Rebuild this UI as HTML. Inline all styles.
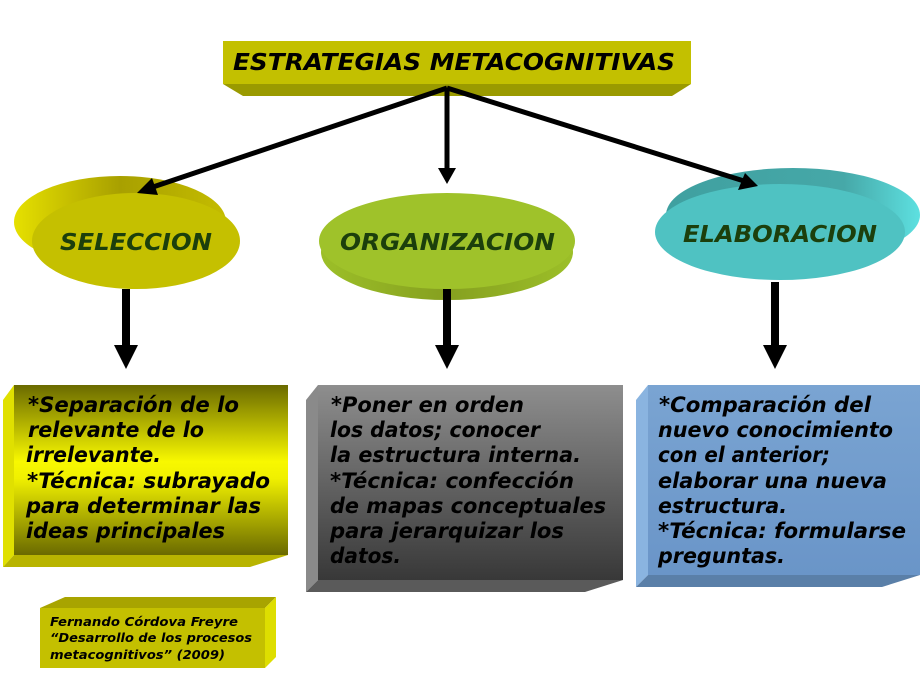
<!DOCTYPE html>
<html><head><meta charset="utf-8"><style>
html,body{margin:0;padding:0;background:#fff;}
svg{display:block;}
text{font-family:"DejaVu Sans","Liberation Sans",sans-serif;font-weight:bold;font-style:italic;}
</style></head><body>
<svg width="922" height="698" viewBox="0 0 922 698" xmlns="http://www.w3.org/2000/svg">
<defs>
<linearGradient id="gy" x1="0" y1="0" x2="0" y2="1">
<stop offset="0" stop-color="#6a6a00"/><stop offset="0.45" stop-color="#f8f800"/><stop offset="0.55" stop-color="#f0f000"/><stop offset="1" stop-color="#6a6a00"/></linearGradient>
<linearGradient id="gg" x1="0" y1="0" x2="0" y2="1">
<stop offset="0" stop-color="#8e8e8e"/><stop offset="1" stop-color="#383838"/></linearGradient>
<linearGradient id="gb" x1="0" y1="0" x2="0" y2="1">
<stop offset="0" stop-color="#7aa4d2"/><stop offset="1" stop-color="#6a95c8"/></linearGradient>
<linearGradient id="go" x1="0" y1="0" x2="1" y2="0">
<stop offset="0" stop-color="#9cbf28"/><stop offset="0.5" stop-color="#86a020"/><stop offset="1" stop-color="#9cbf28"/></linearGradient>
<linearGradient id="gs" x1="0" y1="0" x2="1" y2="0">
<stop offset="0" stop-color="#e6e000"/><stop offset="0.5" stop-color="#a8a000"/><stop offset="1" stop-color="#c4bc00"/></linearGradient>
<linearGradient id="ge" x1="0" y1="0" x2="1" y2="0">
<stop offset="0" stop-color="#3fa0a0"/><stop offset="0.7" stop-color="#46a8a8"/><stop offset="1" stop-color="#5de0e0"/></linearGradient>
</defs>

<!-- title -->
<polygon points="223,84 691,84 672,96 243,96" fill="#9a9a00"/>
<rect x="223" y="41" width="468" height="43" fill="#c3c000"/>
<text x="233" y="70" font-size="23" textLength="442" lengthAdjust="spacingAndGlyphs" fill="#000">ESTRATEGIAS METACOGNITIVAS</text>

<!-- ellipses -->
<ellipse cx="120" cy="222" rx="106" ry="46" fill="url(#gs)"/>
<ellipse cx="136" cy="241" rx="104" ry="48" fill="#c5c000"/>
<text x="60" y="250" font-size="23" textLength="152" lengthAdjust="spacingAndGlyphs" fill="#1c3f0c">SELECCION</text>

<ellipse cx="447" cy="252" rx="126" ry="48" fill="url(#go)"/>
<ellipse cx="447" cy="241" rx="128" ry="48" fill="#9fc22a"/>
<text x="340" y="250" font-size="23" textLength="215" lengthAdjust="spacingAndGlyphs" fill="#1c3f0c">ORGANIZACION</text>

<ellipse cx="793" cy="215" rx="127" ry="47" fill="url(#ge)"/>
<ellipse cx="780" cy="232" rx="125" ry="48" fill="#4fc2c2"/>
<text x="683" y="242" font-size="23" textLength="194" lengthAdjust="spacingAndGlyphs" fill="#1c3f0c">ELABORACION</text>

<!-- top arrows -->
<g stroke="#000" stroke-width="5" fill="none">
<line x1="447" y1="88" x2="150" y2="188"/>
<line x1="447" y1="88" x2="447" y2="168"/>
<line x1="447" y1="88" x2="744" y2="181"/>
</g>
<polygon points="137,193 152,178 158,195" fill="#000"/>
<polygon points="438,168 456,168 447,184" fill="#000"/>
<polygon points="758,186 738,190 745,173" fill="#000"/>

<!-- down arrows -->
<g fill="#000">
<rect x="122" y="289" width="8" height="58"/><polygon points="114,345 138,345 126,369"/>
<rect x="443" y="289" width="8" height="58"/><polygon points="435,345 459,345 447,369"/>
<rect x="771" y="282" width="8" height="65"/><polygon points="763,345 787,345 775,369"/>
</g>

<!-- yellow box -->
<polygon points="3,400 14,385 14,555 3,567" fill="#e0e000"/>
<polygon points="3,567 14,555 288,555 250,567" fill="#b8b400"/>
<rect x="14" y="385" width="274" height="170" fill="url(#gy)"/>
<g font-size="21" fill="#000">
<text x="28" y="412" textLength="211" lengthAdjust="spacingAndGlyphs">*Separación de lo</text>
<text x="28" y="437" textLength="176" lengthAdjust="spacingAndGlyphs">relevante de lo</text>
<text x="26" y="462" textLength="135" lengthAdjust="spacingAndGlyphs">irrelevante.</text>
<text x="27" y="488" textLength="243" lengthAdjust="spacingAndGlyphs">*Técnica: subrayado</text>
<text x="26" y="513" textLength="235" lengthAdjust="spacingAndGlyphs">para determinar las</text>
<text x="26" y="538" textLength="199" lengthAdjust="spacingAndGlyphs">ideas principales</text>
</g>

<!-- gray box -->
<polygon points="306,400 318,385 318,580 306,592" fill="#8a8a8a"/>
<polygon points="306,592 318,580 623,580 585,592" fill="#5a5a5a"/>
<rect x="318" y="385" width="305" height="195" fill="url(#gg)"/>
<g font-size="21" fill="#000">
<text x="331" y="412" textLength="193" lengthAdjust="spacingAndGlyphs">*Poner en orden</text>
<text x="330" y="437" textLength="210" lengthAdjust="spacingAndGlyphs">los datos; conocer</text>
<text x="330" y="462" textLength="251" lengthAdjust="spacingAndGlyphs">la estructura interna.</text>
<text x="330" y="488" textLength="244" lengthAdjust="spacingAndGlyphs">*Técnica: confección</text>
<text x="330" y="513" textLength="276" lengthAdjust="spacingAndGlyphs">de mapas conceptuales</text>
<text x="330" y="538" textLength="234" lengthAdjust="spacingAndGlyphs">para jerarquizar los</text>
<text x="330" y="563" textLength="71" lengthAdjust="spacingAndGlyphs">datos.</text>
</g>

<!-- blue box -->
<polygon points="636,400 648,385 648,575 636,587" fill="#8ab4e0"/>
<polygon points="636,587 648,575 920,575 882,587" fill="#5a7fa8"/>
<rect x="648" y="385" width="272" height="190" fill="url(#gb)"/>
<g font-size="21" fill="#000">
<text x="659" y="412" textLength="212" lengthAdjust="spacingAndGlyphs">*Comparación del</text>
<text x="658" y="437" textLength="235" lengthAdjust="spacingAndGlyphs">nuevo conocimiento</text>
<text x="658" y="462" textLength="172" lengthAdjust="spacingAndGlyphs">con el anterior;</text>
<text x="658" y="488" textLength="229" lengthAdjust="spacingAndGlyphs">elaborar una nueva</text>
<text x="658" y="513" textLength="129" lengthAdjust="spacingAndGlyphs">estructura.</text>
<text x="658" y="538" textLength="248" lengthAdjust="spacingAndGlyphs">*Técnica: formularse</text>
<text x="658" y="563" textLength="127" lengthAdjust="spacingAndGlyphs">preguntas.</text>
</g>

<!-- citation -->
<polygon points="40,608 65,597 276,597 265,608" fill="#a8a400"/>
<polygon points="265,608 276,597 276,657 265,668" fill="#dede00"/>
<rect x="40" y="608" width="225" height="60" fill="#c4c000"/>
<g font-size="12.5" fill="#000">
<text x="50" y="626" textLength="188" lengthAdjust="spacingAndGlyphs">Fernando Córdova Freyre</text>
<text x="50" y="642" textLength="202" lengthAdjust="spacingAndGlyphs">“Desarrollo de los procesos</text>
<text x="50" y="659" textLength="175" lengthAdjust="spacingAndGlyphs">metacognitivos” (2009)</text>
</g>
</svg>
</body></html>
